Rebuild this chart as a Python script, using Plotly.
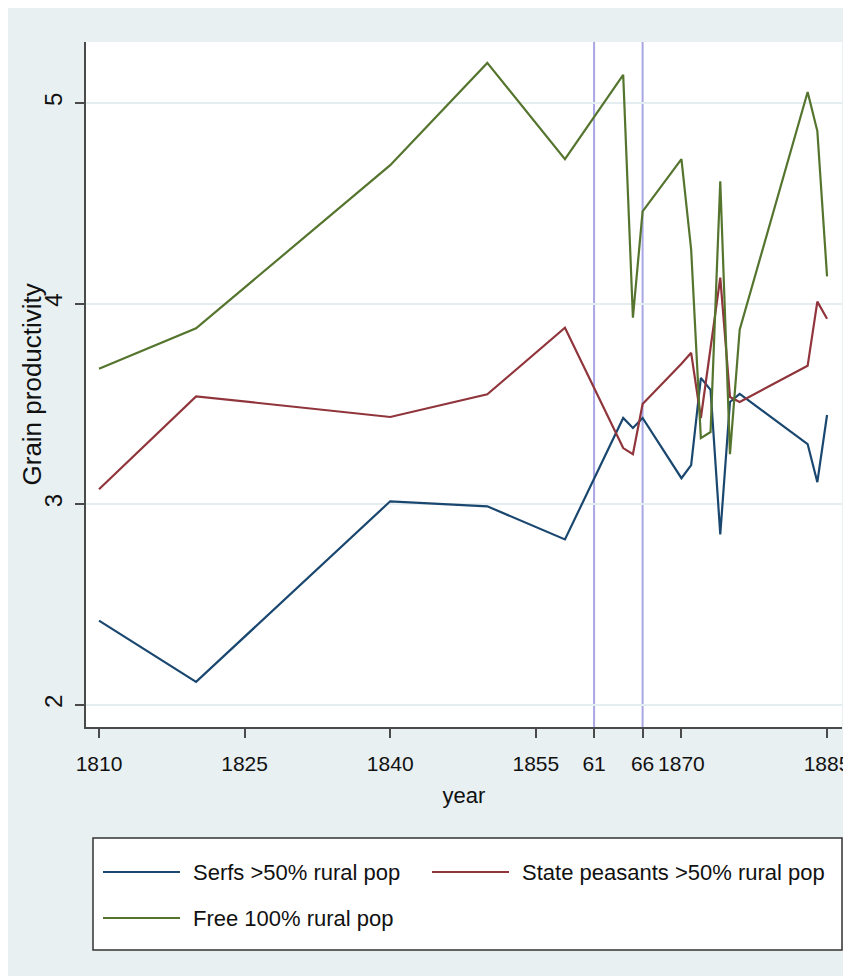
import plotly.graph_objects as go

years_serfs = [1810, 1820, 1840, 1850, 1858, 1864, 1865, 1866, 1870, 1871, 1872, 1873, 1874, 1875, 1876, 1883, 1884, 1885]
serfs = [2.42, 2.115, 3.015, 2.99, 2.825, 3.43, 3.38, 3.43, 3.13, 3.195, 3.63, 3.57, 2.85, 3.51, 3.55, 3.30, 3.11, 3.445]

years_state = [1810, 1820, 1840, 1850, 1858, 1864, 1865, 1866, 1870, 1871, 1872, 1873, 1874, 1875, 1876, 1883, 1884, 1885]
state = [3.075, 3.538, 3.435, 3.548, 3.88, 3.28, 3.25, 3.50, 3.70, 3.755, 3.43, 3.77, 4.13, 3.535, 3.51, 3.69, 4.01, 3.925]

years_free = [1810, 1820, 1840, 1850, 1858, 1864, 1865, 1866, 1870, 1871, 1872, 1873, 1874, 1875, 1876, 1883, 1884, 1885]
free = [3.676, 3.877, 4.69, 5.20, 4.72, 5.14, 3.93, 4.46, 4.72, 4.27, 3.33, 3.36, 4.61, 3.25, 3.87, 5.055, 4.86, 4.136]

series_names = ["Serfs >50% rural pop", "State peasants >50% rural pop", "Free 100% rural pop"]
series_colors = ["#1A476F", "#90353B", "#55752F"]

x_tickvals = [1810, 1825, 1840, 1855, 1861, 1866, 1870, 1885]
x_ticktext = ["1810", "1825", "1840", "1855", "61", "66", "1870", "1885"]
y_tickvals = [2, 3, 4, 5]
reform_years = [1861, 1866]

BG = "#E8F0F2"
GRID = "#E4EDEF"
AXC = "#4A4A4A"
SANS = "Liberation Sans, Arial, sans-serif"

# figure is 843x968 (the page's default 8px body margin sits at top/left)
FW, FH = 843, 968
L, R, T, B = 78, 9, 34, 249
PW = FW - L - R
PH = FH - T - B

def px_x(p):
    return (p - L) / PW

def px_y(p):
    return (FH - B - p) / PH

fig = go.Figure()
for xs, ys, name, col in zip([years_serfs, years_state, years_free],
                             [serfs, state, free], series_names, series_colors):
    fig.add_trace(go.Scatter(x=xs, y=ys, mode="lines", name=name,
                             line=dict(color=col, width=2.2), showlegend=False))

for yr in reform_years:
    fig.add_vline(x=yr, line=dict(color="#A9A6E6", width=2), layer="below")

shapes = list(fig.layout.shapes)
# legend box
shapes.append(dict(type="rect", xref="paper", yref="paper", x0=px_x(85), x1=px_x(834),
                   y0=px_y(942), y1=px_y(830), fillcolor="white",
                   line=dict(color="#333333", width=1.5)))
legend_pos = [(95, 864), (424, 864), (95, 910)]
annotations = []
for (lx, ly), name, col in zip(legend_pos, series_names, series_colors):
    shapes.append(dict(type="line", xref="paper", yref="paper", x0=px_x(lx), x1=px_x(lx + 77),
                       y0=px_y(ly), y1=px_y(ly), line=dict(color=col, width=2.2)))
    annotations.append(dict(xref="paper", yref="paper", x=px_x(lx + 88), y=px_y(ly),
                            xanchor="left", yanchor="middle", text=name, showarrow=False,
                            font=dict(family=SANS, size=22, color="#111111")))

# y axis title placed close to the tick labels, as in the reference
annotations.append(dict(xref="paper", yref="paper", x=px_x(23), y=0.5, textangle=-90,
                        xanchor="center", yanchor="middle", text="Grain productivity",
                        showarrow=False, font=dict(family=SANS, size=26, color="#111111")))

fig.update_layout(
    width=FW, height=FH,
    margin=dict(l=L, r=R, t=T, b=B),
    paper_bgcolor=BG, plot_bgcolor="white",
    shapes=shapes,
    annotations=annotations,
    xaxis=dict(range=[1808.66, 1886.54], tickvals=x_tickvals, ticktext=x_ticktext, tickangle=0,
               showgrid=False, zeroline=False, showline=True, linecolor=AXC, linewidth=1.5,
               ticks="outside", ticklen=9, tickcolor=AXC, tickwidth=1.5, ticklabelstandoff=8,
               ticklabeloverflow="allow", automargin=False,
               tickfont=dict(family=SANS, size=21, color="#111111"),
               title=dict(text="year", font=dict(family=SANS, size=22, color="#111111"), standoff=14)),
    yaxis=dict(range=[1.89, 5.304], tickvals=y_tickvals, tickangle=-90,
               showgrid=True, gridcolor=GRID, gridwidth=2, zeroline=False,
               showline=True, linecolor=AXC, linewidth=1.5, automargin=False,
               ticks="outside", ticklen=9, tickcolor=AXC, tickwidth=1.5, ticklabelstandoff=4,
               tickfont=dict(family=SANS, size=24, color="#111111")),
)

fig.write_html("out.html")
